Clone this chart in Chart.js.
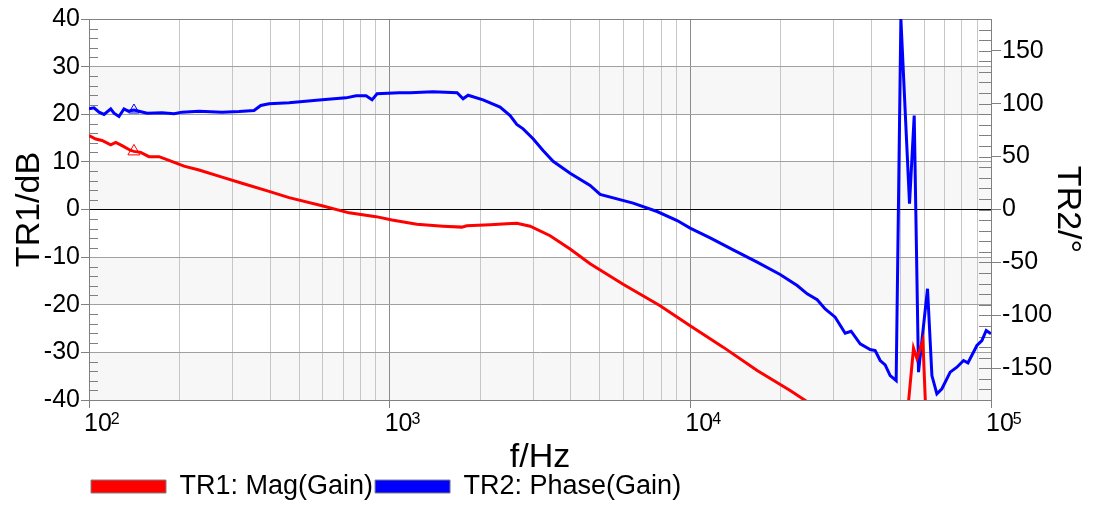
<!DOCTYPE html>
<html>
<head>
<meta charset="utf-8">
<script src="https://cdn.jsdelivr.net/npm/chart.js@4.4.1/dist/chart.umd.min.js"></script>
<style>
html, body { margin: 0; padding: 0; background: #fff; }
</style>
</head>
<body>
<canvas id="bode" width="1094" height="506"></canvas>
<script>
// TR1: magnitude (dB)
let freqMag = [100, 105.3, 110.5, 118.1, 122.7, 128.8, 137.6, 141.1, 148.6, 158.3, 171.0, 184.5, 207.0, 232.3, 277.0, 322.8, 397.0, 462.8, 595.9, 732.7, 900.8, 1018, 1231, 1505, 1738, 1805, 2158, 2453, 2647, 2932, 3417, 3982, 4642, 5976, 7934, 9984, 12857, 16681, 21478, 24654, 29183, 39637, 51830, 55240, 56700, 59370, 61340, 67770, 99380];
let magDb = [15.5, 14.8, 14.5, 13.6, 14.1, 13.4, 12.4, 12.2, 12.0, 11.1, 11.1, 10.3, 9.1, 8.3, 6.8, 5.5, 3.8, 2.5, 0.8, -0.7, -1.5, -2.2, -3.1, -3.5, -3.7, -3.4, -3.2, -3.0, -2.9, -3.5, -5.5, -8.3, -11.4, -15.7, -20.2, -24.4, -28.9, -33.8, -38.0, -40.5, -43.5, -49, -48, -29.1, -31.3, -27.5, -50, -55, -60];

// TR2: phase (degrees)
let freqPhase = [100, 103.9, 108.0, 112.2, 118.1, 121.1, 125.8, 130.7, 135.1, 141.1, 146.7, 156.0, 174.9, 191.8, 203.9, 232.3, 277.0, 315.5, 353.9, 372.6, 397.0, 462.8, 595.9, 716.1, 773.0, 834.6, 873.8, 907.9, 1075, 1169, 1394, 1676, 1755, 1823, 2045, 2329, 2515, 2647, 2779, 2999, 3237, 3496, 3982, 4642, 5012, 6451, 7753, 9040, 9984, 11640, 13882, 16681, 19890, 22665, 24467, 26415, 28080, 30320, 32730, 34260, 36720, 39637, 41190, 42800, 44460, 46200, 48370, 50150, 53580, 55540, 57400, 61500, 63600, 66070, 68660, 73160, 77020, 81020, 83800, 89770, 93270, 96390, 100000];
let phaseDeg = [95.1, 96.1, 92, 89.8, 95.1, 91, 87.9, 95.1, 92.9, 94, 92.9, 91, 91.4, 90.4, 92, 92.9, 92, 92.6, 93.5, 98.3, 99.9, 100.8, 103.6, 105.5, 107.4, 107.4, 103.6, 109.3, 110.3, 110.3, 111.2, 110.3, 104.6, 108, 103.6, 96.7, 88.8, 80.3, 76.2, 66.8, 55.7, 45.6, 34.3, 22.7, 14.2, 6, -1.9, -10.4, -17.6, -26.8, -38.1, -49.8, -61.4, -71.8, -79.7, -85.3, -93.9, -101.7, -116.9, -115, -126.9, -132.3, -133.2, -142.7, -146.8, -156.9, -161.6, 180, 5.4, 88.8, -153.7, -74.9, -156.9, -174.2, -169.4, -153.7, -149, -142.7, -144.9, -128.5, -123.8, -114.3, -117.5];

let markerFreq = 141.1;

let seriesLabels = ['TR1: Mag(Gain)', 'TR2: Phase(Gain)'];
let decadeValues = [100, 1000, 10000, 100000];
let decadeExponents = ['2', '3', '4', '5'];
let phaseTicks = [-150, -100, -50, 0, 50, 100, 150];
let shadedBands = [[20, 30], [0, 10], [-20, -10], [-40, -30]];

let xTickValues = [];
decadeValues.forEach((d, i) => {
	let last = (i === decadeValues.length - 1) ? 1 : 9;
	for (let k = 1; k <= last; k++) xTickValues.push(d * k);
});

function toPoints(xs, ys) {
	return xs.map((x, i) => ({ x: x, y: ys[i] }));
}

let fontFamily = "'Liberation Sans', Arial, sans-serif";
Chart.defaults.font.family = fontFamily;
Chart.defaults.color = '#000';

let frameDecor = {
	id: 'frameDecor',
	beforeDraw(chart) {
		let { ctx, chartArea: a, scales: { y } } = chart;
		ctx.save();
		ctx.fillStyle = '#f7f7f7';
		shadedBands.forEach(([lo, hi]) => {
			let top = y.getPixelForValue(hi);
			let bot = y.getPixelForValue(lo);
			ctx.fillRect(a.left, top, a.right - a.left, bot - top);
		});
		ctx.restore();
	},
	beforeDatasetsDraw(chart) {
		let { ctx, chartArea: a, scales: { y, y2 } } = chart;
		ctx.save();
		ctx.strokeStyle = '#808080';
		ctx.lineWidth = 1;
		ctx.beginPath();
		for (let v = -40; v <= 40; v += 2) {
			if (v % 10 === 0) continue;
			let py = Math.round(y.getPixelForValue(v)) + 0.5;
			ctx.moveTo(a.left, py);
			ctx.lineTo(a.left + 9, py);
		}
		for (let v = -180; v <= 180; v += 10) {
			let py = Math.round(y2.getPixelForValue(v)) + 0.5;
			ctx.moveTo(a.right - 12, py);
			ctx.lineTo(a.right, py);
		}
		ctx.stroke();
		ctx.restore();
	},
	afterDraw(chart) {
		// decade labels as 10 with a raised exponent
		let { ctx, chartArea: a, scales: { x } } = chart;
		ctx.save();
		ctx.fillStyle = '#000';
		ctx.textBaseline = 'alphabetic';
		ctx.textAlign = 'left';
		decadeValues.forEach((d, i) => {
			let px = x.getPixelForValue(d) - 5;
			ctx.font = '25px ' + fontFamily;
			ctx.fillText('10', px, a.bottom + 31);
			let w = ctx.measureText('10').width;
			ctx.font = '16px ' + fontFamily;
			ctx.fillText(decadeExponents[i], px + w - 1, a.bottom + 24);
		});
		ctx.restore();
	}
};

let isDecade = (v) => decadeValues.includes(v);

let bode = new Chart(document.getElementById('bode'), {
	type: 'line',
	data: {
		datasets: [
			{
				label: seriesLabels[0],
				data: toPoints(freqMag, magDb),
				yAxisID: 'y',
				borderColor: '#ff0000',
				backgroundColor: '#ff0000',
				borderWidth: 3,
				clip: 0,
				pointStyle: 'triangle',
				pointRadius: (c) => (c.raw && c.raw.x === markerFreq ? 7 : 0),
				pointBackgroundColor: 'rgba(0,0,0,0)',
				pointBorderColor: '#ff0000',
				pointBorderWidth: 1
			},
			{
				label: seriesLabels[1],
				data: toPoints(freqPhase, phaseDeg),
				yAxisID: 'y2',
				borderColor: '#0000ff',
				backgroundColor: '#0000ff',
				borderWidth: 3,
				clip: 0,
				pointStyle: 'triangle',
				pointRadius: (c) => (c.raw && c.raw.x === markerFreq ? 6 : 0),
				pointBackgroundColor: 'rgba(0,0,0,0)',
				pointBorderColor: '#0000ff',
				pointBorderWidth: 1
			}
		]
	},
	options: {
		responsive: false,
		animation: false,
		layout: { padding: { top: 19, left: 0, right: 0, bottom: 0 } },
		elements: { line: { tension: 0 } },
		plugins: {
			tooltip: { enabled: false },
			legend: {
				position: 'bottom',
				align: 'start',
				fullSize: false,
				maxHeight: 35,
				labels: {
					boxWidth: 75,
					boxHeight: 13,
					padding: 2,
					font: { size: 27 },
					generateLabels: (chart) => chart.data.datasets.map((ds, i) => ({
						text: ds.label,
						fillStyle: ds.borderColor,
						strokeStyle: '#808080',
						lineWidth: 1,
						hidden: false,
						datasetIndex: i
					}))
				}
			}
		},
		scales: {
			x: {
				type: 'logarithmic',
				min: 100,
				max: 100000,
				afterBuildTicks: (scale) => { scale.ticks = xTickValues.map(v => ({ value: v })); },
				afterFit: (scale) => { scale.height = 71; },
				ticks: {
					autoSkip: false,
					maxRotation: 0,
					font: { size: 25 },
					callback: () => ''
				},
				grid: {
					color: (c) => (c.tick && isDecade(c.tick.value) ? '#8c8c8c' : '#c6c6c6'),
					tickColor: (c) => (c.tick && isDecade(c.tick.value) ? '#808080' : 'rgba(0,0,0,0)'),
					tickLength: 8
				},
				border: { color: '#808080', width: 1 },
				title: {
					display: true,
					text: 'f/Hz',
					font: { size: 34, lineHeight: 0.8 },
					padding: { top: 0, bottom: 0 }
				}
			},
			y: {
				position: 'left',
				min: -40,
				max: 40,
				afterFit: (scale) => { scale.width = 89; },
				ticks: { stepSize: 10, padding: 1, font: { size: 25 } },
				grid: {
					color: (c) => {
						if (!c.tick) return '#a0a0a0';
						if (c.tick.value === 0) return '#000';
						if (Math.abs(c.tick.value) === 40) return '#808080';
						return '#a0a0a0';
					},
					tickColor: '#808080',
					tickLength: 8
				},
				border: { color: '#808080', width: 1 },
				title: {
					display: true,
					text: 'TR1/dB',
					font: { size: 34, lineHeight: 0.8 },
					padding: { top: 16, bottom: 0 }
				}
			},
			y2: {
				position: 'right',
				min: -180,
				max: 180,
				afterBuildTicks: (scale) => { scale.ticks = phaseTicks.map(v => ({ value: v })); },
				afterFit: (scale) => { scale.width = 103; },
				ticks: { padding: 1, font: { size: 25 } },
				grid: {
					drawOnChartArea: false,
					tickColor: '#808080',
					tickLength: 10
				},
				border: { color: '#808080', width: 1 },
				title: {
					display: true,
					text: 'TR2/°',
					font: { size: 34, lineHeight: 0.8 },
					padding: { top: 13, bottom: 0 }
				}
			}
		}
	},
	plugins: [frameDecor]
});
</script>
</body>
</html>
